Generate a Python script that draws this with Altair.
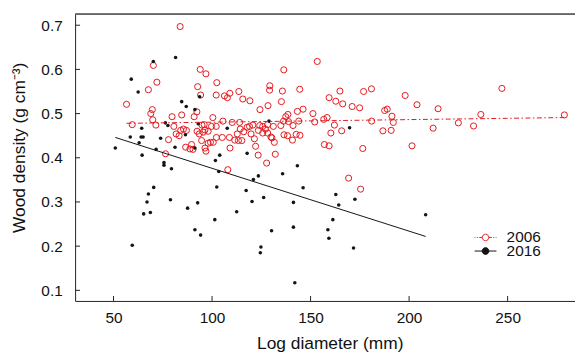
import altair as alt
import pandas as pd

# ---- data ----
x_2006 = [83.8, 70.2, 72.0, 67.7, 56.6, 69.7, 68.9, 69.9, 71.5, 59.5,
          94.0, 96.9, 92.7, 94.2, 102.4, 102.1, 106.3, 107.8, 109.0, 113.6,
          115.6, 119.2, 124.3, 128.4, 129.3, 129.2, 136.4, 135.7, 135.2, 144.5,
          146.2, 143.3, 138.5, 137.4, 136.3, 138.8, 144.0, 141.1, 134.9, 136.5,
          140.8, 142.7, 144.6, 132.1, 127.7, 123.4, 108.0, 109.1, 122.1, 76.4,
          77.9, 79.7, 84.6, 80.6, 81.8, 83.3, 84.1, 85.5, 87.0, 86.6,
          88.8, 90.3, 89.6, 92.4, 93.5, 90.9, 92.3, 94.9, 96.0, 96.4,
          95.5, 98.0, 94.7, 98.0, 96.4, 96.9, 99.2, 100.6, 100.4, 102.1,
          102.2, 105.2, 105.5, 108.8, 110.2, 112.8, 111.5, 113.4, 114.3, 114.0,
          115.1, 117.8, 119.0, 120.7, 119.8, 121.5, 123.5, 124.2, 125.7, 125.7,
          127.1, 128.2, 129.9, 131.1, 131.6, 99.7, 116.1, 128.2, 130.4, 138.3,
          153.4, 164.9, 159.4, 162.8, 166.3, 176.9, 180.9, 171.1, 174.9, 198.0,
          204.0, 214.7, 247.1, 236.4, 278.8, 225.0, 232.7, 212.2, 201.5, 176.5,
          187.6, 188.9, 191.3, 192.0, 186.7, 190.9, 181.0, 165.8, 162.1, 160.3,
          157.0, 159.4, 156.7, 158.4, 152.1, 151.2, 169.3, 175.4]
y_2006 = [0.697, 0.609, 0.571, 0.554, 0.521, 0.509, 0.500, 0.486, 0.474, 0.475,
          0.600, 0.590, 0.561, 0.542, 0.570, 0.542, 0.540, 0.536, 0.546, 0.550,
          0.533, 0.529, 0.509, 0.518, 0.563, 0.553, 0.599, 0.551, 0.527, 0.555,
          0.510, 0.505, 0.498, 0.493, 0.483, 0.482, 0.483, 0.473, 0.473, 0.452,
          0.440, 0.453, 0.451, 0.408, 0.388, 0.406, 0.373, 0.422, 0.426, 0.409,
          0.441, 0.493, 0.497, 0.471, 0.454, 0.450, 0.462, 0.465, 0.462, 0.424,
          0.420, 0.419, 0.430, 0.460, 0.454, 0.493, 0.504, 0.474, 0.475, 0.463,
          0.458, 0.460, 0.439, 0.433, 0.422, 0.415, 0.435, 0.435, 0.491, 0.471,
          0.446, 0.446, 0.483, 0.446, 0.480, 0.454, 0.440, 0.439, 0.465, 0.480,
          0.439, 0.469, 0.471, 0.474, 0.454, 0.443, 0.462, 0.473, 0.471, 0.456,
          0.465, 0.475, 0.447, 0.471, 0.435, 0.471, 0.459, 0.456, 0.445, 0.450,
          0.618, 0.551, 0.536, 0.528, 0.522, 0.550, 0.556, 0.516, 0.513, 0.541,
          0.520, 0.511, 0.557, 0.498, 0.497, 0.479, 0.472, 0.467, 0.427, 0.421,
          0.507, 0.510, 0.494, 0.480, 0.461, 0.462, 0.483, 0.461, 0.474, 0.456,
          0.430, 0.427, 0.487, 0.491, 0.481, 0.500, 0.354, 0.329]

x_2016 = [50.9, 58.5, 59.0, 59.5, 62.5, 63.0, 64.0, 65.0, 64.3, 64.5,
          65.3, 67.0, 67.7, 68.7, 70.2, 70.4, 71.6, 73.9, 75.6, 75.6,
          76.3, 77.6, 78.9, 79.4, 81.2, 81.5, 84.6, 86.5, 86.9, 87.6,
          91.3, 91.3, 91.3, 92.7, 93.0, 93.7, 94.2, 101.4, 101.7, 102.4,
          103.4, 103.9, 107.7, 112.5, 117.3, 117.8, 120.3, 121.0, 123.5, 124.5,
          124.8, 126.2, 128.9, 130.2, 135.8, 141.3, 141.3, 142.0, 143.3, 146.2,
          158.8, 159.3, 161.3, 162.8, 164.3, 171.8, 172.5, 208.4, 169.8]
y_2016 = [0.422, 0.447, 0.578, 0.202, 0.549, 0.434, 0.447, 0.447, 0.467, 0.406,
          0.273, 0.300, 0.318, 0.276, 0.618, 0.333, 0.419, 0.444, 0.389, 0.383,
          0.479, 0.473, 0.305, 0.375, 0.424, 0.627, 0.527, 0.452, 0.516, 0.286,
          0.509, 0.422, 0.237, 0.298, 0.477, 0.538, 0.225, 0.260, 0.394, 0.334,
          0.369, 0.406, 0.467, 0.278, 0.326, 0.410, 0.301, 0.351, 0.359, 0.185,
          0.198, 0.310, 0.483, 0.235, 0.364, 0.299, 0.243, 0.117, 0.382, 0.332,
          0.237, 0.218, 0.260, 0.317, 0.293, 0.196, 0.306, 0.271, 0.468]

# fitted lines (end points)
fit_x_2006 = [56.6, 278.8]
fit_y_2006 = [0.478, 0.491]
fit_x_2016 = [50.9, 208.4]
fit_y_2016 = [0.446, 0.222]

x_ticks = [50, 100, 150, 200, 250]
y_ticks = [0.1, 0.2, 0.3, 0.4, 0.5, 0.6, 0.7]
years = ["2006", "2016"]

# ---- styling ----
RED = "#e3191f"
BLACK = "#141414"
AXC = "#222222"
FONT = "Liberation Sans"
W = 504.3
H = 289.3

xs = alt.Scale(domain=[30.5, 284.2], nice=False, zero=False)
ys = alt.Scale(domain=[0.076, 0.725], nice=False, zero=False)

df06 = pd.DataFrame({"x": x_2006, "y": y_2006, "year": years[0]})
df16 = pd.DataFrame({"x": x_2016, "y": y_2016, "year": years[1]})
fit06 = pd.DataFrame({"x": fit_x_2006, "y": fit_y_2006})
fit16 = pd.DataFrame({"x": fit_x_2016, "y": fit_y_2016})
xt = pd.DataFrame({"x": x_ticks})
yt = pd.DataFrame({"y": y_ticks})

PATH06 = ("M-2,0H-1.87M-1.6,0H-1.42M-1.15,0H-0.6M0.6,0H1.15M1.42,0H1.6M1.87,0H2"
          "M0.6,0A0.6,0.6,0,1,1,-0.6,0A0.6,0.6,0,1,1,0.6,0")
PATH16 = "M-2,0H2M0.62,0A0.62,0.62,0,1,1,-0.62,0A0.62,0.62,0,1,1,0.62,0"

common_leg = dict(title=None, orient="none", symbolSize=121, symbolStrokeWidth=1,
                  symbolOpacity=1, labelFont=FONT, labelFontSize=15.5,
                  labelColor="#111111", labelOffset=13.5, padding=0)

x_axis = alt.Axis(values=x_ticks, ticks=False, grid=False, labelFlush=False,
                  labelFont=FONT, labelFontSize=15.5, labelColor="#111111",
                  labelPadding=10, domainColor=AXC, domainWidth=1,
                  title="Log diameter (mm)", titleFont=FONT, titleFontSize=17.5,
                  titleFontWeight="normal", titleColor="#111111",
                  titleX=256.9, titleY=48, titleBaseline="alphabetic")
y_axis = alt.Axis(values=y_ticks, format=".1f", ticks=False, grid=False,
                  labelFlush=False, labelFont=FONT, labelFontSize=15.5,
                  labelColor="#111111", labelPadding=13, domainColor=AXC,
                  domainWidth=1, title="Wood density (g cm⁻³)", titleFont=FONT,
                  titleFontSize=17.5, titleFontWeight="normal",
                  titleColor="#111111", titleAngle=270, titleAlign="center",
                  titleBaseline="alphabetic", titleX=-50.7, titleY=134.3)

X = alt.X("x:Q", scale=xs, axis=x_axis)
Y = alt.Y("y:Q", scale=ys, axis=y_axis)

pts06 = alt.Chart(df06).mark_point(shape="circle", filled=False, size=38,
                                   strokeWidth=1, opacity=1).encode(
    x=X, y=Y,
    stroke=alt.Stroke("year:N", scale=alt.Scale(domain=[years[0]], range=[RED]),
                      legend=alt.Legend(symbolType=PATH06, legendX=406.3,
                                        legendY=217.5, **common_leg)),
)

pts16 = alt.Chart(df16).mark_point(shape="circle", filled=True, size=13,
                                   opacity=1).encode(
    x=X, y=Y,
    fill=alt.Fill("year:N", scale=alt.Scale(domain=[years[1]], range=[BLACK]),
                  legend=alt.Legend(symbolType=PATH16, legendX=406.3,
                                    legendY=231.2, symbolStrokeColor=BLACK,
                                    **common_leg)),
)

line06 = alt.Chart(fit06).mark_line(color=RED, strokeWidth=1,
                                    strokeDash=[5, 2.5, 1.5, 2.5]).encode(x=X, y=Y)
line16 = alt.Chart(fit16).mark_line(color=BLACK, strokeWidth=1).encode(x=X, y=Y)

xtick = alt.Chart(xt).mark_rule(color=AXC, strokeWidth=1).encode(
    x=X, y=alt.value(H - 5), y2=alt.value(H))
ytick = alt.Chart(yt).mark_rule(color=AXC, strokeWidth=1).encode(
    y=Y, x=alt.value(0), x2=alt.value(5))
topline = alt.Chart(xt).mark_rule(color="#666666", strokeWidth=1).encode(
    x=alt.value(0), x2=alt.value(W), y=alt.value(0))

chart = alt.layer(pts06, pts16, line06, line16, xtick, ytick, topline).properties(
    width=W, height=H,
    padding={"left": 67.7, "top": 4.7, "right": 0, "bottom": 52},
    autosize=alt.AutoSizeParams(type="none"),
    background="white",
).configure_view(stroke=None)

chart.save("out.html", embed_options={"renderer": "svg", "actions": False})
